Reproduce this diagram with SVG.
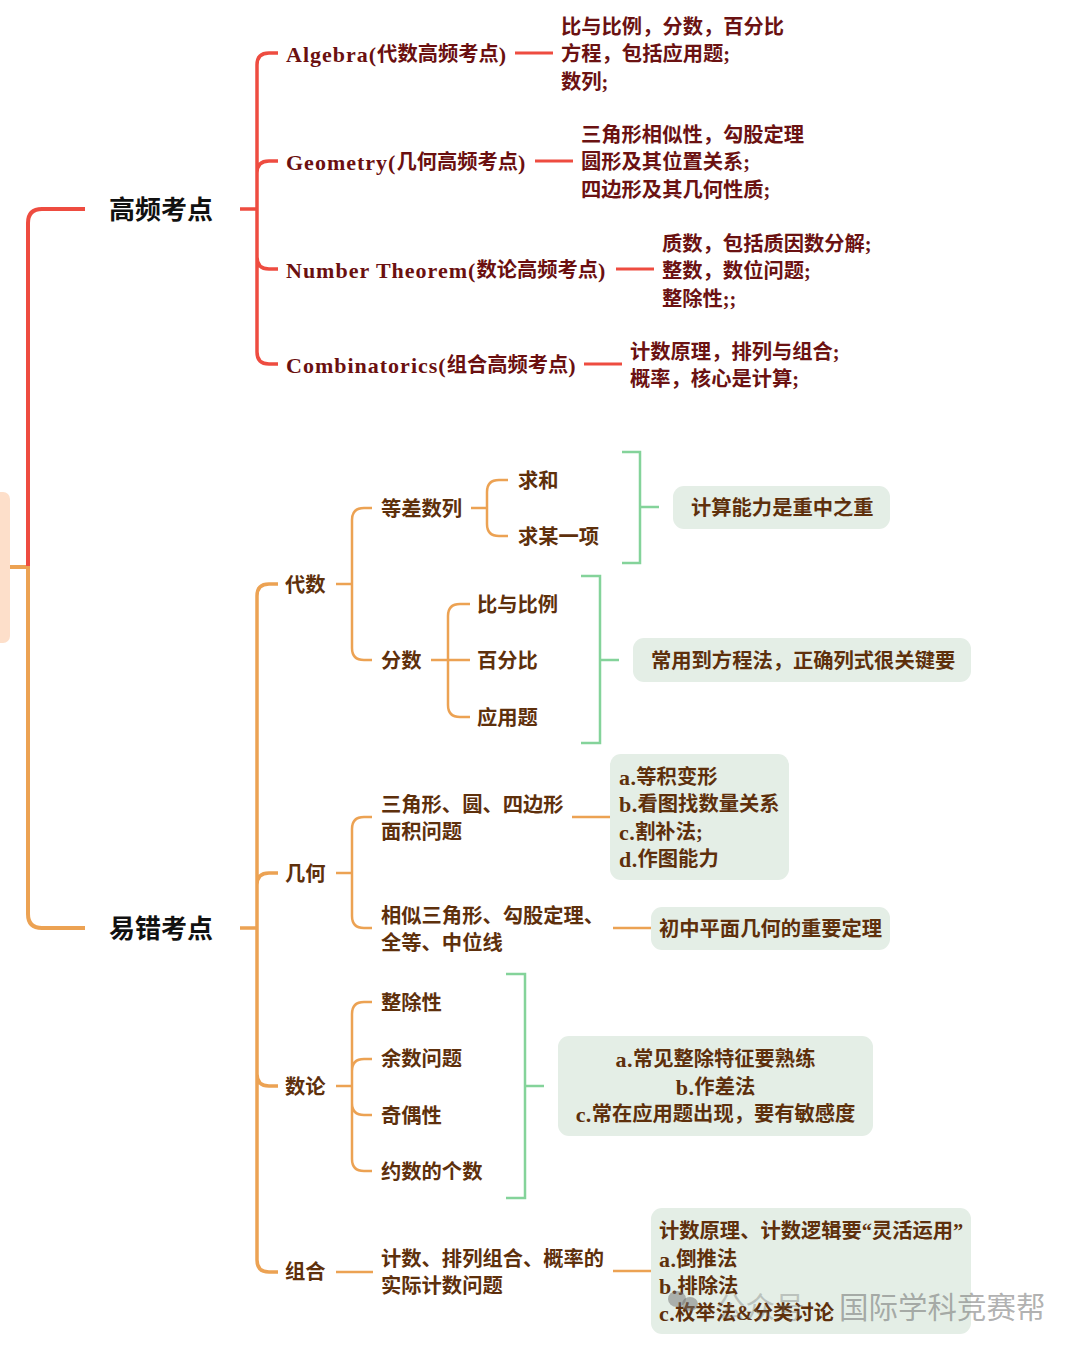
<svg xmlns="http://www.w3.org/2000/svg" width="1080" height="1348" viewBox="0 0 1080 1348">
<style>
text{font-family:"Liberation Serif","Noto Sans CJK SC",serif;font-weight:700;font-size:20.3px;dominant-baseline:central;transform:translateY(1px)}
.title{font-size:26px;fill:#111;font-family:"Noto Sans CJK SC",sans-serif;transform:translateY(-2px)}
.r1{fill:#6b1010}
.l1{font-size:22px;letter-spacing:1px}
.l2{font-size:22px;letter-spacing:.4px}
.r2{fill:#6b1212}
.o{fill:#5e300c}
.wm{font-family:"Noto Sans CJK SC",sans-serif;font-weight:400;font-size:29.5px;fill:#6f6f6f;fill-opacity:.55}
.box{fill:#e4eee6}
.cr,.co,.cg{fill:none;stroke-linecap:butt}
.cr{stroke:#ee4c40;stroke-width:3.5}
.co{stroke:#eca253;stroke-width:3.5}
.th{stroke-width:4}
.cg{stroke:#84d39a;stroke-width:2.5}
</style>
<g id="root"><rect x="-10" y="492" width="20" height="151" rx="7" fill="#fddfca"/></g>
<g id="connectors">
<path class="co th" d="M10 567H28"/>
<path class="cr th" d="M28 566V223Q28 209 42 209H85"/>
<path class="co th" d="M28 566V914Q28 928 42 928H85"/>
<path class="cr" d="M240 209H257M278 53H269Q257 53 257 65V352Q257 364 269 364H278M278 161H269Q257 161 257 173M257 257Q257 269 269 269H278"/>
<path class="cr" style="stroke-width:3" d="M515 53H553M535 161H573M616 269H654M584 364H622"/>
<path class="co" d="M240 928H257M278 584H269Q257 584 257 596V1260Q257 1272 269 1272H278M278 873H269Q257 873 257 885M257 1074Q257 1086 269 1086H278"/>
<path class="co" style="stroke-width:2.5" d="M336 584H352M372 508H364Q352 508 352 520V648Q352 660 364 660H372M471 508H487M508 480H499Q487 480 487 492V524Q487 536 499 536H508M431 660H470M470 604H460Q448 604 448 616V705Q448 717 460 717H470"/>
<path class="co" style="stroke-width:2.5" d="M336 873H352M372 817H364Q352 817 352 829V916Q352 928 364 928H372M572 817H610M613 928H651"/>
<path class="co" style="stroke-width:2.5" d="M336 1086H352M372 1002H364Q352 1002 352 1014V1159Q352 1171 364 1171H372M372 1059H364Q352 1059 352 1071M352 1103Q352 1115 364 1115H372"/>
<path class="co" style="stroke-width:2.5" d="M336 1272H373M613 1271H651"/>
<path class="cg" d="M622 452H640V563H622M640 507H659"/>
<path class="cg" d="M581 576H600V743H581M600 660H619"/>
<path class="cg" d="M506 974H525V1198H506M525 1086H544"/>
</g>
<g id="n-gaopin"><text class="title" x="109" y="209">高频考点</text></g>
<g id="n-yicuo"><text class="title" x="109" y="928">易错考点</text></g>
<g id="n-algebra"><text class="r1" x="286" y="53"><tspan class="l1">Algebra(</tspan>代数高频考点<tspan class="l1">)</tspan></text></g>
<g id="n-geometry"><text class="r1" x="286" y="161"><tspan class="l1">Geometry(</tspan>几何高频考点<tspan class="l1">)</tspan></text></g>
<g id="n-number"><text class="r1" x="286" y="269"><tspan class="l1">Number Theorem(</tspan>数论高频考点<tspan class="l1">)</tspan></text></g>
<g id="n-combi"><text class="r1" x="286" y="364"><tspan class="l1">Combinatorics(</tspan>组合高频考点<tspan class="l1">)</tspan></text></g>
<g id="n-a1"><text class="r2" x="561" y="26">比与比例，分数，百分比</text><text class="r2" x="561" y="53">方程，包括应用题;</text><text class="r2" x="561" y="81">数列;</text></g>
<g id="n-g1"><text class="r2" x="581" y="134">三角形相似性，勾股定理</text><text class="r2" x="581" y="161">圆形及其位置关系;</text><text class="r2" x="581" y="189">四边形及其几何性质;</text></g>
<g id="n-n1"><text class="r2" x="662" y="243">质数，包括质因数分解;</text><text class="r2" x="662" y="270">整数，数位问题;</text><text class="r2" x="662" y="298">整除性;;</text></g>
<g id="n-c1"><text class="r2" x="630" y="351">计数原理，排列与组合;</text><text class="r2" x="630" y="378">概率，核心是计算;</text></g>
<g id="n-daishu"><text class="o" x="285" y="584">代数</text></g>
<g id="n-dengcha"><text class="o" x="381" y="508">等差数列</text></g>
<g id="n-qiuhe"><text class="o" x="518" y="480">求和</text></g>
<g id="n-qiumou"><text class="o" x="518" y="536">求某一项</text></g>
<g id="n-fenshu"><text class="o" x="381" y="660">分数</text></g>
<g id="n-bili"><text class="o" x="477" y="604">比与比例</text></g>
<g id="n-baifen"><text class="o" x="477" y="660">百分比</text></g>
<g id="n-yingyong"><text class="o" x="477" y="717">应用题</text></g>
<g id="n-note1"><rect class="box" x="673" y="486" width="217" height="43" rx="11"/><text class="o" x="691" y="507">计算能力是重中之重</text></g>
<g id="n-note2"><rect class="box" x="633" y="638" width="338" height="44" rx="11"/><text class="o" x="651" y="660">常用到方程法，正确列式很关键要</text></g>
<g id="n-jihe"><text class="o" x="285" y="873">几何</text></g>
<g id="n-sanjiao"><text class="o" x="381" y="804">三角形、圆、四边形</text><text class="o" x="381" y="831">面积问题</text></g>
<g id="n-note3"><rect class="box" x="610" y="754" width="179" height="126" rx="11"/><text class="o" x="619" y="776"><tspan class="l2">a.</tspan>等积变形</text><text class="o" x="619" y="803"><tspan class="l2">b.</tspan>看图找数量关系</text><text class="o" x="619" y="831"><tspan class="l2">c.</tspan>割补法;</text><text class="o" x="619" y="858"><tspan class="l2">d.</tspan>作图能力</text></g>
<g id="n-xiangsi"><text class="o" x="381" y="915">相似三角形、勾股定理、</text><text class="o" x="381" y="942">全等、中位线</text></g>
<g id="n-note4"><rect class="box" x="651" y="907" width="239" height="43" rx="11"/><text class="o" x="659" y="928">初中平面几何的重要定理</text></g>
<g id="n-shulun"><text class="o" x="285" y="1086">数论</text></g>
<g id="n-zhengchu"><text class="o" x="381" y="1002">整除性</text></g>
<g id="n-yushu"><text class="o" x="381" y="1058">余数问题</text></g>
<g id="n-jiou"><text class="o" x="381" y="1115">奇偶性</text></g>
<g id="n-yueshu"><text class="o" x="381" y="1171">约数的个数</text></g>
<g id="n-note5"><rect class="box" x="558" y="1036" width="315" height="100" rx="11"/><text class="o" x="715.5" y="1058" text-anchor="middle"><tspan class="l2">a.</tspan>常见整除特征要熟练</text><text class="o" x="715.5" y="1086" text-anchor="middle"><tspan class="l2">b.</tspan>作差法</text><text class="o" x="715.5" y="1113" text-anchor="middle"><tspan class="l2">c.</tspan>常在应用题出现，要有敏感度</text></g>
<g id="n-zuhe"><text class="o" x="285" y="1271">组合</text></g>
<g id="n-jishu"><text class="o" x="381" y="1258">计数、排列组合、概率的</text><text class="o" x="381" y="1285">实际计数问题</text></g>
<g id="n-note6"><rect class="box" x="651" y="1208" width="320" height="126" rx="11"/><text class="o" x="659" y="1230">计数原理、计数逻辑要“灵活运用”</text><text class="o" x="659" y="1258"><tspan class="l2">a.</tspan>倒推法</text><text class="o" x="659" y="1285"><tspan class="l2">b.</tspan>排除法</text><text class="o" x="659" y="1312"><tspan class="l2">c.</tspan>枚举法&amp;分类讨论</text></g>
<g id="watermark"><ellipse cx="677" cy="1299" rx="9" ry="8" fill="#6f6f6f" fill-opacity=".5"/><ellipse cx="690" cy="1304" rx="8" ry="7" fill="#6f6f6f" fill-opacity=".5"/><text class="wm" x="716" y="1304" style="fill-opacity:.35">公众号</text><text class="wm" x="839" y="1304">国际学科竞赛帮</text></g>
</svg>
